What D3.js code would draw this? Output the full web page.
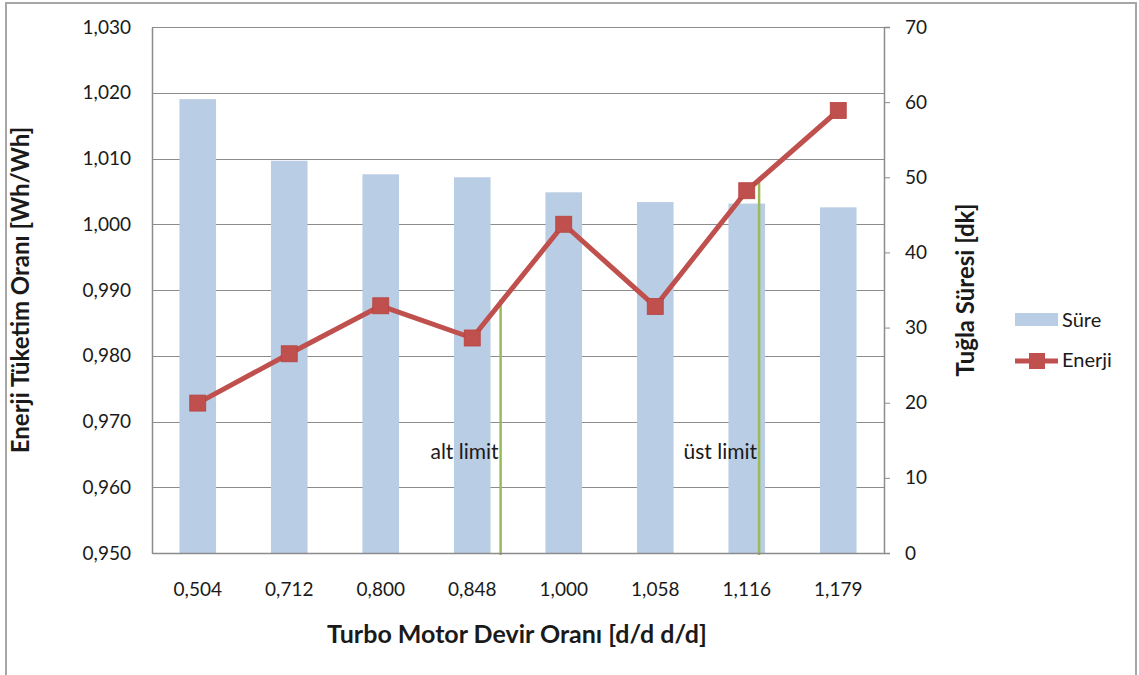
<!DOCTYPE html>
<html>
<head>
<meta charset="utf-8">
<script src="https://cdn.jsdelivr.net/npm/d3@7"></script>
<style>
  html, body { margin: 0; padding: 0; background: #fff; }
  svg { display: block; }
  text { font-family: Lato, "Open Sans", sans-serif; fill: #1a1a1a; }
</style>
</head>
<body>
<svg id="chart" width="1139" height="675"></svg>
<script>
// Turbo motor speed ratios (category axis)
const categories = ["0,504", "0,712", "0,800", "0,848", "1,000", "1,058", "1,116", "1,179"];
// Brick duration in minutes (bars, right axis)
const sure = [60.4, 52.2, 50.4, 50.0, 48.0, 46.7, 46.5, 46.0];
// Energy consumption ratio (line, left axis)
const enerji = [0.9728, 0.9803, 0.9876, 0.9827, 1.0000, 0.9875, 1.0051, 1.0173];
// Tick values for both value axes
const leftTicks = [0.95, 0.96, 0.97, 0.98, 0.99, 1.00, 1.01, 1.02, 1.03];
const rightTicks = [0, 10, 20, 30, 40, 50, 60, 70];
// Speed-ratio limits: position on the category axis (in band units) and top on the left axis
const limitLabels = ["alt limit", "üst limit"];
const limitPos = [3.81, 6.635];
const limitTop = [0.9886, 1.0070];

const svg = d3.select("#chart");
const m = { left: 152, right: 884, top: 27, bottom: 553 };
const tickFont = "19px";

// outer frame
svg.append("rect")
  .attr("x", 6).attr("y", 3).attr("width", 1130).attr("height", 690)
  .attr("fill", "none").attr("stroke", "#a6a6a6").attr("stroke-width", 2);

const x = d3.scaleBand().domain(categories).range([m.left, m.right]);
const yL = d3.scaleLinear().domain([0.95, 1.03]).range([m.bottom, m.top]);
const yR = d3.scaleLinear().domain([0, 70]).range([m.bottom, m.top]);
const bandPos = d3.scaleLinear().domain([0, categories.length]).range([m.left, m.right]);

// horizontal gridlines
svg.append("g").selectAll("line").data(leftTicks).join("line")
  .attr("x1", m.left).attr("x2", m.right)
  .attr("y1", d => Math.round(yL(d)) + 0.5).attr("y2", d => Math.round(yL(d)) + 0.5)
  .attr("stroke", "#8c8c8c").attr("stroke-width", 1.2);

// bars
const barW = x.bandwidth() * 0.4;
svg.append("g").selectAll("rect").data(sure).join("rect")
  .attr("x", (d, i) => x(categories[i]) + x.bandwidth() / 2 - barW / 2)
  .attr("y", d => yR(d))
  .attr("width", barW)
  .attr("height", d => yR(0) - yR(d))
  .attr("fill", "#b9cde4");

// limit markers
svg.append("g").selectAll("line").data(limitPos).join("line")
  .attr("x1", d => bandPos(d)).attr("x2", d => bandPos(d))
  .attr("y1", (d, i) => yL(limitTop[i])).attr("y2", m.bottom + 2)
  .attr("stroke", "#9bbb59").attr("stroke-width", 2.5);

svg.append("g").selectAll("text").data(limitLabels).join("text")
  .attr("x", (d, i) => bandPos(limitPos[i]) - 2)
  .attr("y", 459)
  .attr("text-anchor", "end")
  .style("font-size", "21px")
  .text(d => d);

// left axis
const axL = svg.append("g").attr("transform", `translate(${m.left},0)`)
  .call(d3.axisLeft(yL).tickValues(leftTicks).tickSize(0).tickPadding(21)
    .tickFormat(d => d3.format(".3f")(d).replace(".", ",")));
axL.select(".domain").attr("stroke", "#8c8c8c").attr("stroke-width", 1.5);
axL.selectAll("text").style("font-size", tickFont).style("fill", "#1a1a1a")
  .style("font-family", "Lato, 'Open Sans', sans-serif");

// right axis
const axR = svg.append("g").attr("transform", `translate(${m.right},0)`)
  .call(d3.axisRight(yR).tickValues(rightTicks).tickSize(6).tickPadding(15));
axR.select(".domain").attr("stroke", "#8c8c8c").attr("stroke-width", 1.5);
axR.selectAll(".tick line").attr("stroke", "#8c8c8c");
axR.selectAll("text").style("font-size", tickFont).style("fill", "#1a1a1a")
  .style("font-family", "Lato, 'Open Sans', sans-serif");

// bottom axis
const axB = svg.append("g").attr("transform", `translate(0,${m.bottom})`)
  .call(d3.axisBottom(x).tickSize(0).tickPadding(30));
axB.select(".domain").attr("stroke", "#8c8c8c").attr("stroke-width", 1.5);
axB.selectAll("text").style("font-size", tickFont).style("fill", "#1a1a1a")
  .style("font-family", "Lato, 'Open Sans', sans-serif");

// energy line
const line = d3.line()
  .x((d, i) => x(categories[i]) + x.bandwidth() / 2)
  .y(d => yL(d));
svg.append("path").datum(enerji)
  .attr("d", line)
  .attr("fill", "none").attr("stroke", "#c0504d").attr("stroke-width", 5)
  .attr("stroke-linejoin", "round");

const mk = 16;
svg.append("g").selectAll("rect").data(enerji).join("rect")
  .attr("x", (d, i) => x(categories[i]) + x.bandwidth() / 2 - mk / 2)
  .attr("y", d => yL(d) - mk / 2)
  .attr("width", mk).attr("height", mk)
  .attr("fill", "#c0504d").attr("stroke", "#b7423f").attr("stroke-width", 0.8);

// axis titles
svg.append("text")
  .attr("transform", `translate(29,290) rotate(-90)`)
  .attr("text-anchor", "middle")
  .style("font-size", "24px").style("font-weight", "bold")
  .text("Enerji Tüketim Oranı [Wh/Wh]");

svg.append("text")
  .attr("transform", `translate(974,290) rotate(-90)`)
  .attr("text-anchor", "middle")
  .style("font-size", "24px").style("font-weight", "bold")
  .text("Tuğla Süresi [dk]");

svg.append("text")
  .attr("x", 517).attr("y", 643)
  .attr("text-anchor", "middle")
  .style("font-size", "25px").style("font-weight", "bold")
  .text("Turbo Motor Devir Oranı [d/d d/d]");

// legend
const lg = svg.append("g");
lg.append("rect").attr("x", 1015).attr("y", 313).attr("width", 43).attr("height", 13)
  .attr("fill", "#b9cde4");
lg.append("text").attr("x", 1062).attr("y", 327).style("font-size", "20px").text("Süre");
lg.append("line").attr("x1", 1015).attr("x2", 1058).attr("y1", 361).attr("y2", 361)
  .attr("stroke", "#c0504d").attr("stroke-width", 5);
lg.append("rect").attr("x", 1029).attr("y", 353).attr("width", 16).attr("height", 16)
  .attr("fill", "#c0504d");
lg.append("text").attr("x", 1062).attr("y", 367).style("font-size", "20px").text("Enerji");
</script>
</body>
</html>
